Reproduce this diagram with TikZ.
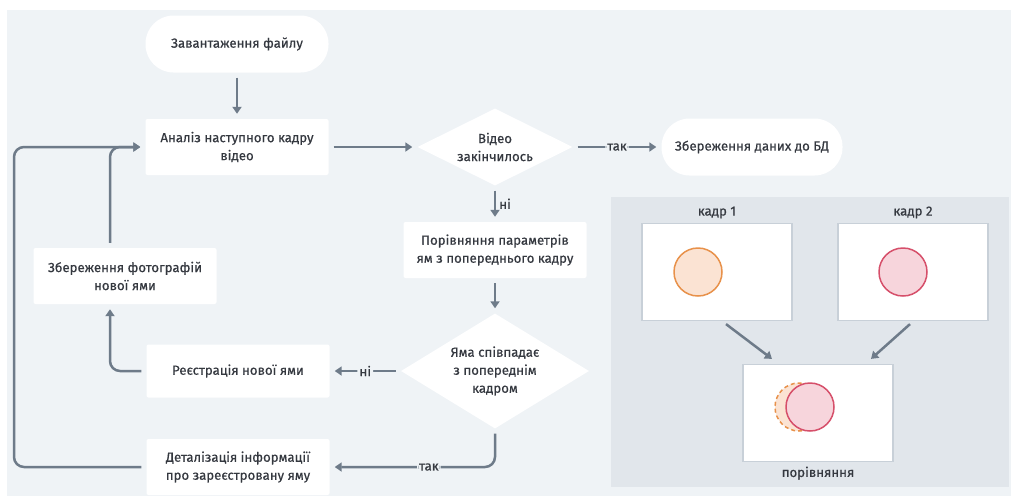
\documentclass[tikz,border=0pt]{standalone}
\usepackage{fontspec}
\setmainfont{Fira Sans}[FakeBold=0.5]
\usetikzlibrary{shapes.geometric,arrows.meta}
\definecolor{bg}{HTML}{EFF3F6}
\definecolor{panel}{HTML}{E1E6EB}
\definecolor{linec}{HTML}{6E7B89}
\definecolor{txt}{HTML}{34383F}
\definecolor{framec}{HTML}{C8D0D8}
\definecolor{orangeS}{HTML}{E8914A}
\definecolor{orangeF}{HTML}{FBE3D3}
\definecolor{pinkS}{HTML}{D64F6A}
\definecolor{pinkF}{HTML}{F7D5DC}
\begin{document}
\begin{tikzpicture}[x=1pt,y=-1pt,
  every node/.style={font=\fontsize{13.2}{18}\selectfont, text=txt},
  box/.style={fill=white, rounded corners=2pt, minimum width=183pt, minimum height=56pt, align=center, inner sep=0pt},
  pill/.style={fill=white, rounded corners=28pt, minimum width=183pt, minimum height=57pt, align=center, inner sep=0pt},
  dec/.style={diamond, fill=white, inner sep=0pt, align=center},
  conn/.style={draw=linec, line width=2.5pt, -{Triangle[length=7pt,width=9pt]}, rounded corners=10pt, shorten >=5pt, shorten <=5pt},
  lbl/.style={fill=bg, inner sep=2pt},
  frm/.style={fill=white, draw=framec, line width=1.2pt, minimum width=150pt, minimum height=97pt, inner sep=0pt},
]
\useasboundingbox (0,0) rectangle (1011,496);
\fill[white] (0,0) rectangle (1011,496);
\fill[bg] (7,10) rectangle (1011,496);
\fill[panel] (611,197) rectangle (1009,487);

% flowchart nodes
\node[pill] (start) at (237,44) {Завантаження файлу};
\node[box] (anal) at (237,147) {Аналіз наступного кадру\\відео};
\node[dec, minimum width=155pt, minimum height=77pt, aspect=2] (d1) at (495,147) {Відео\\закінчилось};
\node[pill, minimum width=181pt] (save) at (752,147) {Збереження даних до БД};
\node[box] (cmp) at (495,250) {Порівняння параметрів\\ям з попереднього кадру};
\node[dec, minimum width=188pt, minimum height=115pt, aspect=1.63] (d2) at (495,371) {Яма співпадає\\з попереднім\\кадром};
\node[box, minimum height=53pt] (reg) at (238,371) {Реєстрація нової ями};
\node[box] (photo) at (125,276) {Збереження фотографій\\нової ями};
\node[box] (det) at (238,467) {Деталізація інформації\\про зареєстровану яму};
\coordinate (lc) at (14,0);

% connectors
\draw[conn] (start) -- (anal);
\draw[conn] (anal) -- (d1);
\draw[conn] (d1.east) -- node[lbl] {так} (save.west);
\draw[conn] (d1.south) -- node[right=2pt, inner sep=1pt] {ні} (cmp.north);
\draw[conn] (cmp) -- (d2);
\draw[conn] (d2.west) -- node[lbl] {ні} (reg.east);
\draw[conn] (reg.west) -| ([xshift=-15pt]photo.south);
\draw[conn] ([xshift=-15pt]photo.north) |- (anal.west);
\draw[conn] (det.west) -- (det.west -| lc) |- (anal.west);
\draw[conn] (d2.south) |- node[lbl, pos=0.7] {так} (det.east);

% comparison panel
\node[frm] (f1) at (717,272) {};
\node[frm] (f2) at (913,272) {};
\node[frm] (f3) at (818,413) {};
\node[above=1pt] (l1) at (f1.north) {кадр 1};
\node[above=1pt] (l2) at (f2.north) {кадр 2};
\node[below=1pt] (l3) at (f3.south) {порівняння};
\node[circle, draw=orangeS, fill=orangeF, line width=1.5pt, minimum size=48pt, inner sep=0pt] (c1) at (698,272) {};
\node[circle, draw=pinkS, fill=pinkF, line width=1.5pt, minimum size=48pt, inner sep=0pt] (c2) at (903,272) {};
\node[circle, draw=orangeS, fill=orangeF, line width=1.5pt, dash pattern=on 4pt off 3pt, minimum size=48pt, inner sep=0pt] (c3) at (799,407) {};
\node[circle, draw=pinkS, fill=pinkF, line width=1.5pt, minimum size=48pt, inner sep=0pt] (c4) at (810,407) {};
\draw[conn, rounded corners=0pt, shorten <=0pt, shorten >=0pt] ([xshift=9pt,yshift=-3pt]f1.south) -- ([xshift=-46pt,yshift=5pt]f3.north);
\draw[conn, rounded corners=0pt, shorten <=0pt, shorten >=0pt] ([xshift=-3pt,yshift=-3pt]f2.south) -- ([xshift=53pt,yshift=5pt]f3.north);
\end{tikzpicture}
\end{document}
